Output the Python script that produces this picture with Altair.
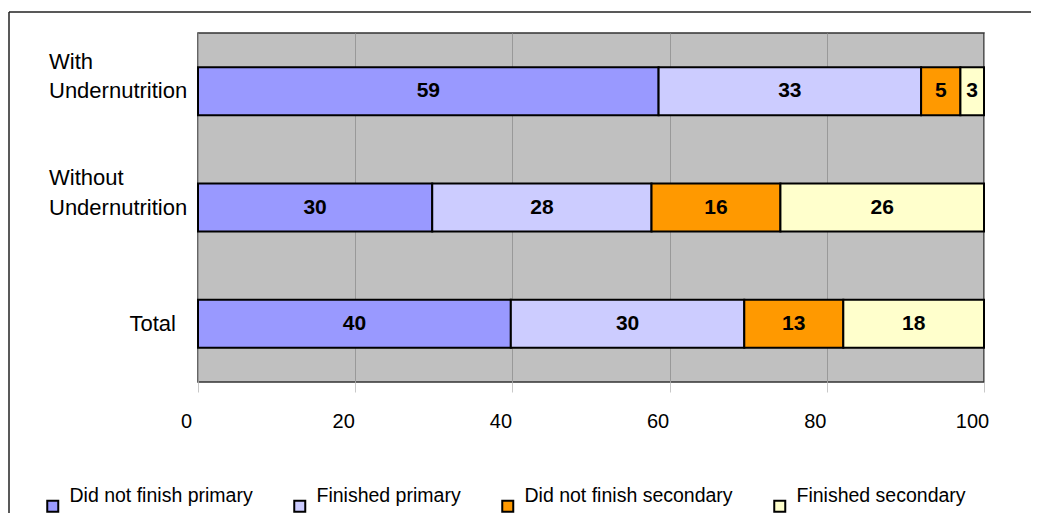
import altair as alt
import pandas as pd

# ---- data ----
groups = ["With Undernutrition", "Without Undernutrition", "Total"]
group_labels = ["With\nUndernutrition", "Without\nUndernutrition", "Total"]
categories = ["Did not finish primary", "Finished primary",
              "Did not finish secondary", "Finished secondary"]
colors = ["#9999FF", "#CCCCFF", "#FF9900", "#FFFFCC"]

with_under = [58.6, 33.4, 5.0, 3.0]
without_under = [29.8, 27.9, 16.4, 25.9]
total = [39.8, 29.7, 12.6, 17.9]

x_ticks = [0, 20, 40, 60, 80, 100]

rows = []
for g, vals in zip(groups, [with_under, without_under, total]):
    for i, (c, v) in enumerate(zip(categories, vals)):
        rows.append({"group": g, "category": c, "value": v, "order": i})
df = pd.DataFrame(rows)

lab_df = pd.DataFrame({"group": groups, "label": group_labels,
                       "two": [1, 1, 0]})

FONT = "Liberation Sans"

y_enc = alt.Y("group:N", sort=groups,
              scale=alt.Scale(paddingInner=0.587, paddingOuter=0.2935),
              axis=None)

base = alt.Chart(df).transform_stack(
    stack="value", groupby=["group"], as_=["v0", "v1"],
    sort=[alt.SortField("order", order="ascending")]
).transform_calculate(mid="(datum.v0 + datum.v1) / 2")

bars = base.mark_bar(stroke="black", strokeWidth=2).encode(
    y=y_enc,
    x=alt.X("v0:Q", title=None,
            scale=alt.Scale(domain=[0, 100], nice=False, zero=True),
            axis=alt.Axis(values=x_ticks, grid=True, gridColor="#999999",
                          gridWidth=1, domain=False, tickColor="#c8c8c8",
                          tickSize=10, tickWidth=1, labelFont=FONT,
                          labelFontSize=20, labelColor="#000000",
                          labelPadding=19, labelOffset=-12,
                          labelFlush=False)),
    x2="v1:Q",
    color=alt.Color("category:N", sort=categories,
                    scale=alt.Scale(domain=categories, range=colors),
                    legend=alt.Legend(
                        title=None, orient="none", direction="horizontal",
                        legendX=-155, legendY=463,
                        symbolType="square", symbolSize=121,
                        symbolStrokeColor="black", symbolStrokeWidth=2,
                        symbolOpacity=1,
                        labelFont=FONT, labelFontSize=19.5,
                        labelColor="#000000", labelBaseline="bottom",
                        labelOffset=7, columnPadding=37, padding=0,
                        labelLimit=400)),
    order=alt.Order("order:Q"),
)

bar_text = base.mark_text(font=FONT, fontSize=21, fontWeight="bold",
                          color="#000000", baseline="middle").encode(
    y=y_enc,
    x=alt.X("mid:Q"),
    text=alt.Text("value:Q", format=".0f"),
)

lab_two = alt.Chart(lab_df).transform_filter("datum.two == 1").mark_text(
    align="left", baseline="middle", lineBreak="\n", lineHeight=29.5,
    dy=-29.5, font=FONT, fontSize=22, color="#000000"
).encode(y=y_enc, x=alt.value(-149), text="label:N")

lab_one = alt.Chart(lab_df).transform_filter("datum.two == 0").mark_text(
    align="right", baseline="middle", font=FONT, fontSize=22,
    color="#000000"
).encode(y=y_enc, x=alt.value(-22), text="label:N")

frame_df = pd.DataFrame({"k": [0]})
frame_v = alt.Chart(frame_df).mark_rule(color="#222222", strokeWidth=1.5).encode(
    x=alt.value(-189), y=alt.value(-21), y2=alt.value(600))
frame_h = alt.Chart(frame_df).mark_rule(color="#222222", strokeWidth=1.5).encode(
    x=alt.value(-189), x2=alt.value(900), y=alt.value(-21))

chart = alt.layer(bars, bar_text, lab_two, lab_one, frame_v, frame_h).properties(
    width=786, height=349,
    background="white",
    autosize=alt.AutoSizeParams(type="none"),
    padding={"left": 190, "top": 25, "right": 47, "bottom": 131},
).configure_view(
    fill="#C0C0C0", stroke="#333333", strokeWidth=1.5
)

chart.save("out.html", embed_options={"renderer": "svg", "actions": False})
